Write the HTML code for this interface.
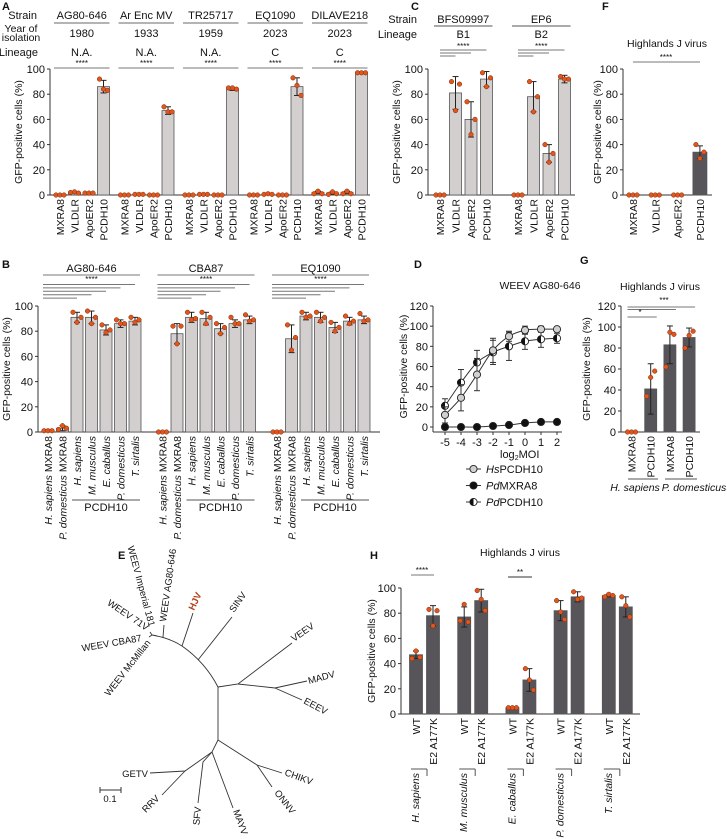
<!DOCTYPE html>
<html><head><meta charset="utf-8"><style>
html,body{margin:0;padding:0;background:#fff}
svg{display:block;font-family:"Liberation Sans",Arial,sans-serif}
</style></head><body>
<svg id="fig" width="727" height="839" viewBox="0 0 727 839"></svg>
<script>
// ---------- DATA ----------
const aStrains=['AG80-646','Ar Enc MV','TR25717','EQ1090','DILAVE218'];
const aYears=['1980','1933','1959','2023','2023'];
const aLineage=['N.A.','N.A.','N.A.','C','C'];
const aCats=['MXRA8','VLDLR','ApoER2','PCDH10'];
const aMeans=[[0.5,2,1.5,86],[0,0.5,0,67],[0,0.5,0,84],[0,0.5,0,86],[2,1.5,2,97]];
const aErrs=[[0,0.5,0.3,5],[0,0,0,3],[0,0,0,1],[0,0,0,7],[1,1,1,0.5]];
const aDots=[[[0,0,0],[2,2.5,1.5],[1.5,1.5,1.5],[92,84,83]],[[0,0,0],[0.5,0.5,0.5],[0,0,0],[70,66,66]],[[0,0,0],[0.5,0.5,0.5],[0,0,0],[85,85,84]],[[0,0,0],[0.5,1,0.5],[0,0,0],[93,87,79]],[[1,3,1],[0.5,2.5,1],[1,3,1],[97,97,97]]];

const cStrains=['BFS09997','EP6'];
const cLineage=['B1','B2'];
const cMeans=[[0,81,60,92],[0,78,33,92]];
const cErrs=[[0,13,14,6],[0,12,7,3]];
const cDots=[[[0,0,0],[90,67,88],[74,48,60],[97,86,93]],[[0,0,0],[90,66,78],[40,26,33],[94,92,92]]];

const fCats=['MXRA8','VLDLR','ApoER2','PCDH10'];
const fMeans=[0,0,0,34];
const fErrs=[0,0,0,5];
const fDots=[[0,0,0],[0,0,0],[0,0,0],[40,29,34]];

const bStrains=['AG80-646','CBA87','EQ1090'];
const bCats=['H. sapiens| MXRA8','P. domesticus| MXRA8','H. sapiens|','M. musculus|','E. caballus|','P. domesticus|','T. sirtalis|'];
const bMeans=[[1,3,91,91,81,86,88],[0,78,91,90,82,86,89],[0,74,92,91,83,88,89]];
const bErrs=[[0,2,4,5,4,3,3],[0,8,4,5,4,3,3],[0,11,3,4,4,3,3]];
const bDots=[[[1,1,1],[2,5,3],[95,87,91],[96,86,91],[85,79,81],[89,86,86],[91,87,89]],[[0,0,0],[84,70,84],[95,89,90],[95,86,91],[86,78,83],[91,86,86],[93,88,89]],[[0,0,0],[85,65,75],[95,91,92],[95,88,91],[87,80,83],[92,86,88],[94,88,89]]];

const dX=[-5,-4,-3,-2,-1,0,1,2];
const dHs=[12,29,52,76,90,96,97,97];
const dHsErr=[8,13,16,12,5,4,3,2];
const dPdP=[21,44,64,74,80,85,87,88];
const dPdPErr=[7,13,12,12,14,8,8,5];
const dPdM=[0,0,0,1,2,4,5,5];
const dPdMErr=[0,0,0,0,0,0,0,0];

const gCats=['MXRA8','PCDH10','MXRA8','PCDH10'];
const gMeans=[0,41,83,90];
const gErrs=[0,24,18,9];
const gDots=[[0,0,0],[34,52,58],[62,95,93],[80,92,96]];

const hSpecies=['H. sapiens','M. musculus','E. caballus','P. domesticus','T. sirtalis'];
const hCats=['WT','E2 A177K'];
const hMeans=[[47,78],[77,90],[5,27],[82,93],[94,85]];
const hErrs=[[3,8,],[8,9],[0,9],[8,4],[1,8]];
const hDots=[[[44,50,45],[83,70,82]],[[74,87,73],[98,91,82]],[[5,5,5],[36,27,19]],[[90,81,75],[97,91,92]],[[93,95,94],[93,86,77]]];

// ---------- HELPERS ----------
const NS='http://www.w3.org/2000/svg';
const svg=document.getElementById('fig');
function mk(tag,attrs,parent){const e=document.createElementNS(NS,tag);for(const k in attrs)e.setAttribute(k,attrs[k]);(parent||svg).appendChild(e);return e;}
function txt(x,y,s,size,anchor,parent,extra){const e=mk('text',Object.assign({x:x,y:y,'font-size':size||11,'text-anchor':anchor||'middle',fill:'#111'},extra||{}),parent);e.textContent=s;return e;}
function line(x1,y1,x2,y2,col,w,parent){return mk('line',{x1:x1,y1:y1,x2:x2,y2:y2,stroke:col||'#333',"stroke-width":w||1},parent);}
function rotLabel(x,y,s,size,parent){
  const t=mk('text',{x:0,y:0,'font-size':size,'text-anchor':'end',fill:'#111',transform:`translate(${x},${y}) rotate(-90)`},parent);
  const parts=s.split('|');
  if(parts.length===2){const a=mk('tspan',{'font-style':'italic'},t);a.textContent=parts[0];if(parts[1]){const b=mk('tspan',{},t);b.textContent=parts[1];}}
  else t.textContent=s;
  return t;
}
function panelLetter(x,y,s){const t=txt(x,y,s,11,'start',null,{'font-weight':'bold'});}
function yAxis(g,x0,yTop,yBot,ymax,step,label,labX){
  const y=v=>yBot-(v/ymax)*(yBot-yTop);
  const ax=line(x0,yTop,x0,yBot,'#333',1,g);
  
  
  for(let v=0;v<=ymax;v+=step){line(x0-3,y(v),x0,y(v),'#333',1,g);const t=txt(x0-5,y(v)+4,String(v),11,'end',g);}
  const cy=(yTop+yBot)/2;
  const yl=mk('text',{x:0,y:0,'font-size':10.5,'text-anchor':'middle',fill:'#111',transform:`translate(${labX},${cy}) rotate(-90)`},g);
  yl.textContent=label;
  
  
  return y;
}
function drawBar(g,y,c,mean,err,dots,w,fill,yBot){
  const r=mk('rect',{x:c-w/2,y:y(mean),width:w,height:Math.max(0,yBot-y(mean)),fill:fill,stroke:'#555','stroke-width':0.8},g);
  
  
  if(err>0){
    line(c,y(mean-err),c,y(mean+err),'#222',1,g);
    line(c-3,y(mean+err),c+3,y(mean+err),'#222',1,g);
    line(c-3,y(mean-err),c+3,y(mean-err),'#222',1,g);
  }
  const off=[-4,0,4];
  dots.forEach((d,i)=>{
    const p=mk('circle',{cx:c+off[i],cy:y(d),r:2.3,fill:'#e2561e',stroke:'#7a2a0a','stroke-width':0.5},g);
    
    
  });
}
const LIGHT='#d3cfcf', DARK='#58555a', SIG='#777';

// ---------- PANEL A ----------
(function(){
  const g=mk('g',{});
  
  
  panelLetter(2,10,'A');
  const yBot=195;
  const y=yAxis(g,50,69,yBot,100,20,'GFP-positive cells (%)',22);
  line(50,yBot,370,yBot,'#333',1,g);
  txt(37,19,'Strain',11,'end',g);
  txt(21,32,'Year of',10.5,'middle',g);txt(21,41,'isolation',10.5,'middle',g);
  txt(38,56,'Lineage',11,'end',g);
  aStrains.forEach((s,gi)=>{
    const c0=60+gi*64.5, cc=c0+21.75;
    const st=txt(cc,19,s,11,'middle',g);
    
    
    line(c0-6,23,c0+49.5,23,'#888',1.2,g);
    txt(cc,37,aYears[gi],11,'middle',g);
    txt(cc,56,aLineage[gi],11,'middle',g);
    txt(cc,66,'****',8,'middle',g);
    line(c0-6,68,c0+49.5,68,SIG,1,g);
    aCats.forEach((cat,i)=>{
      const c=c0+i*14.5;
      drawBar(g,y,c,aMeans[gi][i],aErrs[gi][i],aDots[gi][i],12,LIGHT,yBot);
      const l=rotLabel(c+4,199,cat,10.5,g);
      
      
    });
  });
})();

// ---------- PANEL C ----------
(function(){
  const g=mk('g',{});
  
  
  panelLetter(411,10,'C');
  const yBot=195;
  const y=yAxis(g,428,69,yBot,100,20,'GFP-positive cells (%)',400);
  line(428,yBot,575,yBot,'#333',1,g);
  txt(417,23,'Strain',11,'end',g);
  txt(417,38,'Lineage',11,'end',g);
  cStrains.forEach((s,gi)=>{
    const c0=440+gi*78, c3=c0+3*15.5;
    const st=txt((c0+c3)/2,23,s,11,'middle',g);
    
    
    line(c0-6,26,c3+6,26,'#555',1,g);
    txt((c0+c3)/2,38,cLineage[gi],11,'middle',g);
    txt((c0+c3)/2,49,'****',8,'middle',g);
    line(c0,50,c3,50,SIG,1,g);
    line(c0,53,c0+2*15.5,53,SIG,1,g);
    line(c0,56,c0+15.5,56,SIG,1,g);
    aCats.forEach((cat,i)=>{
      const c=c0+i*15.5;
      drawBar(g,y,c,cMeans[gi][i],cErrs[gi][i],cDots[gi][i],12,LIGHT,yBot);
      const l=rotLabel(c+4,199,cat,10.5,g);
      
      
    });
  });
})();

// ---------- PANEL F ----------
(function(){
  const g=mk('g',{});
  
  
  panelLetter(602,10,'F');
  const t=txt(667,47,'Highlands J virus',10.5,'middle',g);
  
  
  const yBot=195;
  const y=yAxis(g,623,69,yBot,100,20,'GFP-positive cells (%)',601);
  line(623,yBot,712,yBot,'#333',1,g);
  txt(666,60,'****',8,'middle',g);
  line(633,62,700,62,SIG,1,g);
  fCats.forEach((cat,i)=>{
    const c=633+i*22.3;
    drawBar(g,y,c,fMeans[i],fErrs[i],fDots[i],14,DARK,yBot);
    const l=rotLabel(c+4,199,cat,10.5,g);
    
    
  });
})();

// ---------- PANEL B ----------
(function(){
  const g=mk('g',{});
  
  
  panelLetter(2,268,'B');
  const yBot=432;
  const y=yAxis(g,38,306,yBot,100,20,'GFP-positive cells (%)',10);
  line(38,yBot,380,yBot,'#333',1,g);
  bStrains.forEach((s,gi)=>{
    const c0=48+gi*114.5, cs=i=>c0+i*14.5;
    const st=txt((cs(0)+cs(6))/2,272,s,11,'middle',g);
    
    
    line(c0-5,275,cs(6)+5,275,SIG,1,g);
    txt((cs(0)+cs(6))/2,282,'****',8,'middle',g);
    [6,5,4,3,2].forEach((k,j)=>line(c0-5,284.5+j*3.4,cs(k),284.5+j*3.4,SIG,1,g));
    bCats.forEach((cat,i)=>{
      const c=cs(i);
      drawBar(g,y,c,bMeans[gi][i],bErrs[gi][i],bDots[gi][i],12,LIGHT,yBot);
      const l=rotLabel(c+4,436,cat,10.5,g);
      
      
    });
    line(cs(2)-5,500,cs(6)+5,500,'#555',1,g);
    txt((cs(2)+cs(6))/2,511,'PCDH10',11,'middle',g);
  });
})();

// ---------- PANEL D ----------
(function(){
  const g=mk('g',{});
  
  
  panelLetter(414,268,'D');
  const t=txt(540,289,'WEEV AG80-646',10.5,'middle',g);
  
  
  const y=yAxis(g,433,306,427,120,20,'GFP-positive cells (%)',407);
  line(433,427,433,432,'#333',1,g);
  const xs=v=>445+(v+5)*16;
  line(433,432,562,432,'#333',1,g);
  dX.forEach(v=>{line(xs(v),432,xs(v),435,'#333',1,g);const tl=txt(xs(v),446,String(v),11,'middle',g);});
  const xl=txt(500,458,'log',11,'start',g);
  
  
  const sub=mk('tspan',{'font-size':7,dy:2},xl);sub.textContent='2';
  const rest=mk('tspan',{dy:-2},xl);rest.textContent='MOI';
  function smooth(pts){let d='M'+pts[0][0]+','+pts[0][1];for(let i=0;i<pts.length-1;i++){const p0=pts[Math.max(0,i-1)],p1=pts[i],p2=pts[i+1],p3=pts[Math.min(pts.length-1,i+2)];d+=` C${p1[0]+(p2[0]-p0[0])/6},${p1[1]+(p2[1]-p0[1])/6} ${p2[0]-(p3[0]-p1[0])/6},${p2[1]-(p3[1]-p1[1])/6} ${p2[0]},${p2[1]}`;}return d;}
  function series(vals,errs,kind,name){
    const pts=dX.map((v,i)=>[xs(v),y(vals[i])]);
    const p=mk('path',{d:smooth(pts),fill:'none',stroke:'#333','stroke-width':1},g);
    
    
    dX.forEach((v,i)=>{
      if(errs[i]>0){line(xs(v),y(vals[i]-errs[i]),xs(v),y(vals[i]+errs[i]),'#333',1,g);line(xs(v)-3,y(vals[i]+errs[i]),xs(v)+3,y(vals[i]+errs[i]),'#333',1,g);line(xs(v)-3,y(vals[i]-errs[i]),xs(v)+3,y(vals[i]-errs[i]),'#333',1,g);}
      marker(xs(v),y(vals[i]),kind,name+'-point');
    });
  }
  function marker(cx,cy,kind,nm){
    const c=mk('circle',{cx:cx,cy:cy,r:3.6,fill:kind==='hs'?'#d0d0d0':kind==='pm'?'#111':'#fff',stroke:'#222','stroke-width':0.9},g);
    
    
    if(kind==='pp'){mk('path',{d:`M${cx},${cy-3.6} A3.6,3.6 0 0 0 ${cx},${cy+3.6} Z`,fill:'#111'},g);}
  }
  series(dPdM,dPdMErr,'pm','pd-mxra8');
  series(dPdP,dPdPErr,'pp','pd-pcdh10');
  series(dHs,dHsErr,'hs','hs-pcdh10');
  const leg=[['hs','Hs','PCDH10'],['pm','Pd','MXRA8'],['pp','Pd','PCDH10']];
  leg.forEach((l,i)=>{
    const ly=469+i*16.5;
    line(466,ly,481,ly,'#333',1,g);
    marker(473.5,ly,l[0],'legend-marker');
    const t=txt(486,ly+4,'',11,'start',g);
    
    
    const a=mk('tspan',{'font-style':'italic'},t);a.textContent=l[1];
    const b=mk('tspan',{},t);b.textContent=l[2];
  });
})();

// ---------- PANEL G ----------
(function(){
  const g=mk('g',{});
  
  
  panelLetter(580,264,'G');
  const t=txt(660,290,'Highlands J virus',10.5,'middle',g);
  
  
  const yBot=432;
  const y=yAxis(g,621,306,yBot,120,20,'GFP-positive cells (%)',590);
  line(621,yBot,700,yBot,'#333',1,g);
  const cs=i=>631.5+i*19.2;
  txt(664,303,'***',8,'middle',g);
  line(cs(0)-4,307,cs(3)+6,307,SIG,1,g);
  line(cs(0)-4,309.5,cs(2)+6,309.5,SIG,1,g);
  txt(640,315,'*',8,'middle',g);
  line(cs(0)-4,317,cs(1)+6,317,SIG,1,g);
  gCats.forEach((cat,i)=>{
    drawBar(g,y,cs(i),gMeans[i],gErrs[i],gDots[i],12,DARK,yBot);
    const l=rotLabel(cs(i)+4,436,cat,10.5,g);
    
    
  });
  line(628,479,658,479,'#555',1,g);line(665,479,697,479,'#555',1,g);
  txt(635,491,'H. sapiens',10.5,'middle',g,{'font-style':'italic'});
  txt(694,491,'P. domesticus',10.5,'middle',g,{'font-style':'italic'});
})();

// ---------- PANEL H ----------
(function(){
  const g=mk('g',{});
  
  
  panelLetter(370,559,'H');
  const t=txt(520,556,'Highlands J virus',10.5,'middle',g);
  
  
  const yBot=714;
  const y=yAxis(g,401,588,yBot,100,20,'GFP-positive cells (%)',375);
  line(401,yBot,640,yBot,'#333',1,g);
  txt(422,573,'****',8,'middle',g);line(411,575,434,575,SIG,1,g);
  txt(520,575,'**',8,'middle',g);line(508,577,532,577,'#333',1,g);
  hSpecies.forEach((sp,p)=>{
    const c0=416+p*48.2;
    hCats.forEach((cat,i)=>{
      const c=c0+i*17;
      drawBar(g,y,c,hMeans[p][i],hErrs[p][i],hDots[p][i],13,DARK,yBot);
      const l=rotLabel(c+4,718,cat,10.5,g);
      
      
    });
    line(c0-5,769,c0+11,769,'#555',1,g);line(c0+11,769,c0+11,776,'#555',1,g);
    const s=rotLabel(c0+3,773,sp+'|',10.5,g);
    
    
  });
})();

// ---------- PANEL E (tree) ----------
(function(){
  const g=mk('g',{});
  
  
  panelLetter(118,559,'E');
  const st={fill:'none',stroke:'#333','stroke-width':0.9};
  const paths=[
    'M218,687 L218,740',
    'M218,687 Q205,662 182,646 Q170,638 152,635',
    'M218,687 L238,684 L292,643','M238,684 L275,688 L307,681','M275,688 L302,700',
    'M198,660 L232,617','M182,646 L193,613','M163,637 L164,625',
    'M152,635 L150,632 M152,635 L149,637',
    'M218,740 L212,752 L185,771 L150,773','M185,771 L162,795',
    'M212,752 L203,762 L198,803','M212,752 L233,808',
    'M218,740 L257,765 L282,773','M257,765 L272,787'
  ];
  paths.forEach(d=>mk('path',Object.assign({d:d},st),g));
  const labs=[
    ['WEEV AG80-646',166,622,-82,'start','#111',false],
    ['WEEV Imperial 181',149,627,75,'end','#111',false],
    ['WEEV 71V',146,631,34,'end','#111',false],
    ['WEEV CBA87',142,641,-10,'end','#111',false],
    ['WEEV McMillan',151,643,-52,'end','#111',false],
    ['HJV',194,611,-65,'start','#b5401a',true],
    ['SINV',234,613,-55,'start','#111',false],
    ['VEEV',294,642,-35,'start','#111',false],
    ['MADV',309,684,-15,'start','#111',false],
    ['EEEV',303,703,28,'start','#111',false],
    ['CHIKV',284,775,20,'start','#111',false],
    ['ONNV',274,793,52,'start','#111',false],
    ['MAYV',233,811,70,'start','#111',false],
    ['SFV',201,807,-85,'end','#111',false],
    ['RRV',160,799,-45,'end','#111',false],
    ['GETV',148,777,0,'end','#111',false]
  ];
  labs.forEach(l=>{
    const t=mk('text',{x:0,y:0,'font-size':9.5,'text-anchor':l[4],fill:l[5],'font-weight':l[6]?'bold':'normal',transform:`translate(${l[1]},${l[2]}) rotate(${l[3]})`},g);
    t.textContent=l[0];
    
    
  });
  line(100,790,121,790,'#333',1,g);line(100,787,100,793,'#333',1,g);line(121,787,121,793,'#333',1,g);
  const sb=txt(110,802,'0.1',9.5,'middle',g);
  
  
})();
</script>
</body></html>
